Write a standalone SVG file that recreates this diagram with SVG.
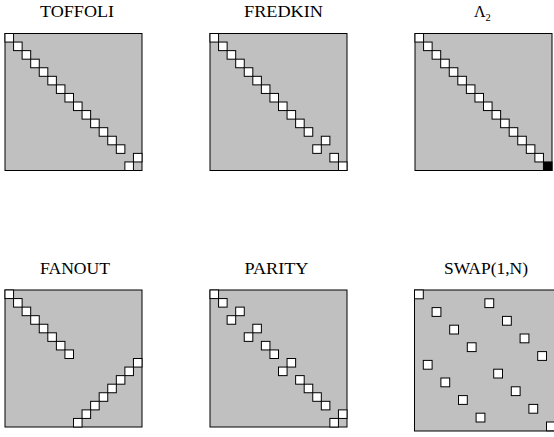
<svg xmlns="http://www.w3.org/2000/svg" width="554" height="437" viewBox="0 0 554 437">
<style>
.box{fill:#c0c0c0;stroke:#000;stroke-width:1}
.sq{fill:#fff;stroke:#000;stroke-width:1}
.blk{fill:#000;stroke:#000;stroke-width:1}
.lbl{font-family:"Liberation Serif","DejaVu Serif",serif;font-size:16px;fill:#000;text-anchor:middle}
</style>
<defs>
<rect id="s" class="sq" width="8.5625" height="8.5625"/>
<rect id="w" class="sq" width="8.8" height="8.8"/>
</defs>
<rect width="554" height="437" fill="#fff"/>

<g id="toffoli">
<text class="lbl" x="77" y="17" textLength="74" lengthAdjust="spacingAndGlyphs">TOFFOLI</text>
<g transform="translate(5,33.5)">
<rect class="box" width="137" height="137"/>
<use href="#s" x="0" y="0"/><use href="#s" x="8.5625" y="8.5625"/><use href="#s" x="17.125" y="17.125"/><use href="#s" x="25.6875" y="25.6875"/>
<use href="#s" x="34.25" y="34.25"/><use href="#s" x="42.8125" y="42.8125"/><use href="#s" x="51.375" y="51.375"/><use href="#s" x="59.9375" y="59.9375"/>
<use href="#s" x="68.5" y="68.5"/><use href="#s" x="77.0625" y="77.0625"/><use href="#s" x="85.625" y="85.625"/><use href="#s" x="94.1875" y="94.1875"/>
<use href="#s" x="102.75" y="102.75"/><use href="#s" x="111.3125" y="111.3125"/>
<use href="#s" x="128.4375" y="119.875"/><use href="#s" x="119.875" y="128.4375"/>
</g>
</g>

<g id="fredkin">
<text class="lbl" x="283.5" y="17" textLength="79" lengthAdjust="spacingAndGlyphs">FREDKIN</text>
<g transform="translate(210,33.5)">
<rect class="box" width="137" height="137"/>
<use href="#s" x="0" y="0"/><use href="#s" x="8.5625" y="8.5625"/><use href="#s" x="17.125" y="17.125"/><use href="#s" x="25.6875" y="25.6875"/>
<use href="#s" x="34.25" y="34.25"/><use href="#s" x="42.8125" y="42.8125"/><use href="#s" x="51.375" y="51.375"/><use href="#s" x="59.9375" y="59.9375"/>
<use href="#s" x="68.5" y="68.5"/><use href="#s" x="77.0625" y="77.0625"/><use href="#s" x="85.625" y="85.625"/><use href="#s" x="94.1875" y="94.1875"/>
<use href="#s" x="111.3125" y="102.75"/><use href="#s" x="102.75" y="111.3125"/>
<use href="#s" x="119.875" y="119.875"/><use href="#s" x="128.4375" y="128.4375"/>
</g>
</g>

<g id="lambda2">
<text class="lbl" x="474" y="17.3" style="text-anchor:start">Λ<tspan font-size="10.5" dy="3.5">2</tspan></text>
<g transform="translate(415,33.5)">
<rect class="box" width="137" height="137"/>
<use href="#s" x="0" y="0"/><use href="#s" x="8.5625" y="8.5625"/><use href="#s" x="17.125" y="17.125"/><use href="#s" x="25.6875" y="25.6875"/>
<use href="#s" x="34.25" y="34.25"/><use href="#s" x="42.8125" y="42.8125"/><use href="#s" x="51.375" y="51.375"/><use href="#s" x="59.9375" y="59.9375"/>
<use href="#s" x="68.5" y="68.5"/><use href="#s" x="77.0625" y="77.0625"/><use href="#s" x="85.625" y="85.625"/><use href="#s" x="94.1875" y="94.1875"/>
<use href="#s" x="102.75" y="102.75"/><use href="#s" x="111.3125" y="111.3125"/><use href="#s" x="119.875" y="119.875"/>
<rect class="blk" x="128.4375" y="128.4375" width="8.5625" height="8.5625"/>
</g>
</g>

<g id="fanout">
<text class="lbl" x="75" y="274" textLength="70" lengthAdjust="spacingAndGlyphs">FANOUT</text>
<g transform="translate(5,290)">
<rect class="box" width="137" height="137"/>
<use href="#s" x="0" y="0"/><use href="#s" x="8.5625" y="8.5625"/><use href="#s" x="17.125" y="17.125"/><use href="#s" x="25.6875" y="25.6875"/>
<use href="#s" x="34.25" y="34.25"/><use href="#s" x="42.8125" y="42.8125"/><use href="#s" x="51.375" y="51.375"/><use href="#s" x="59.9375" y="59.9375"/>
<use href="#s" x="128.4375" y="68.5"/><use href="#s" x="119.875" y="77.0625"/><use href="#s" x="111.3125" y="85.625"/><use href="#s" x="102.75" y="94.1875"/>
<use href="#s" x="94.1875" y="102.75"/><use href="#s" x="85.625" y="111.3125"/><use href="#s" x="77.0625" y="119.875"/><use href="#s" x="68.5" y="128.4375"/>
</g>
</g>

<g id="parity">
<text class="lbl" x="276.5" y="274" textLength="64" lengthAdjust="spacingAndGlyphs">PARITY</text>
<g transform="translate(210,290)">
<rect class="box" width="137" height="137"/>
<use href="#s" x="0" y="0"/><use href="#s" x="8.5625" y="8.5625"/>
<use href="#s" x="25.6875" y="17.125"/><use href="#s" x="17.125" y="25.6875"/>
<use href="#s" x="42.8125" y="34.25"/><use href="#s" x="34.25" y="42.8125"/>
<use href="#s" x="51.375" y="51.375"/><use href="#s" x="59.9375" y="59.9375"/>
<use href="#s" x="77.0625" y="68.5"/><use href="#s" x="68.5" y="77.0625"/>
<use href="#s" x="85.625" y="85.625"/><use href="#s" x="94.1875" y="94.1875"/>
<use href="#s" x="102.75" y="102.75"/><use href="#s" x="111.3125" y="111.3125"/>
<use href="#s" x="128.4375" y="119.875"/><use href="#s" x="119.875" y="128.4375"/>
</g>
</g>

<g id="swap">
<text class="lbl" x="486" y="274" textLength="84" lengthAdjust="spacingAndGlyphs">SWAP(1,N)</text>
<g transform="translate(414.5,290)">
<rect class="box" width="141" height="141"/>
<use href="#w" x="0" y="0"/><use href="#w" x="70.4" y="8.8"/><use href="#w" x="17.6" y="17.6"/><use href="#w" x="88" y="26.4"/>
<use href="#w" x="35.2" y="35.2"/><use href="#w" x="105.6" y="44"/><use href="#w" x="52.8" y="52.8"/><use href="#w" x="123.2" y="61.6"/>
<use href="#w" x="8.8" y="70.4"/><use href="#w" x="79.2" y="79.2"/><use href="#w" x="26.4" y="88"/><use href="#w" x="96.8" y="96.8"/>
<use href="#w" x="44" y="105.6"/><use href="#w" x="114.4" y="114.4"/><use href="#w" x="61.6" y="123.2"/><use href="#w" x="132" y="132"/>
</g>
</g>
</svg>
